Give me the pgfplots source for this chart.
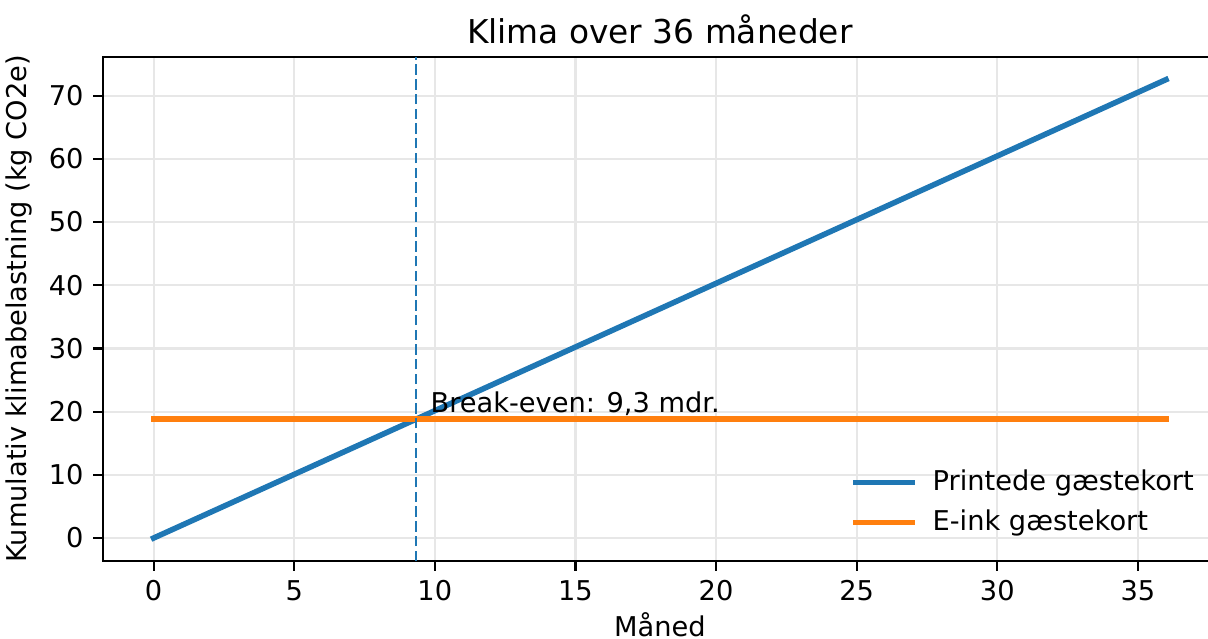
\documentclass[border=0pt]{standalone}
\usepackage{fontspec}
\setmainfont{DejaVu Sans}
\usepackage{pgfplots}
\pgfplotsset{compat=1.18}
\usepackage{pgfplotstable}

\definecolor{mplblue}{HTML}{1F77B4}
\definecolor{mplorange}{HTML}{FF7F0E}
\definecolor{gridgray}{RGB}{231,231,231}

% month, printed cards (cumulative), e-ink cards
\pgfplotstableread{
m  printed  eink
0  0.000    18.8
1  2.015    18.8
2  4.030    18.8
3  6.045    18.8
4  8.060    18.8
5  10.075   18.8
6  12.090   18.8
7  14.105   18.8
8  16.120   18.8
9  18.135   18.8
10 20.150   18.8
11 22.165   18.8
12 24.180   18.8
13 26.195   18.8
14 28.210   18.8
15 30.225   18.8
16 32.240   18.8
17 34.255   18.8
18 36.270   18.8
19 38.285   18.8
20 40.300   18.8
21 42.315   18.8
22 44.330   18.8
23 46.345   18.8
24 48.360   18.8
25 50.375   18.8
26 52.390   18.8
27 54.405   18.8
28 56.420   18.8
29 58.435   18.8
30 60.450   18.8
31 62.465   18.8
32 64.480   18.8
33 66.495   18.8
34 68.510   18.8
35 70.525   18.8
36 72.540   18.8
}\klima

\begin{document}
\begin{tikzpicture}
\begin{axis}[
  scale only axis,
  width=400.6pt, height=181.4pt,
  xmin=-1.8, xmax=37.8,
  ymin=-3.63, ymax=76.17,
  xtick={0,5,...,35},
  ytick={0,10,...,70},
  tick align=outside,
  tick pos=left,
  major tick length=3.5pt,
  every tick/.style={black, line width=0.8pt},
  axis line style={line width=0.8pt},
  grid=major,
  grid style={gridgray, line width=0.8pt},
  /pgf/number format/assume math mode=true,
  tick label style={font=\fontsize{9.8}{12}\selectfont},
  every axis title shift=0pt,
  title={Klima over 36 måneder},
  title style={font=\fontsize{11.8}{14}\selectfont, at={(axis description cs:0.5,1.0254)}, anchor=base},
  xlabel={Måned},
  xlabel style={font=\fontsize{9.8}{12}\selectfont, at={(axis description cs:0.5,-0.1488)}, anchor=base},
  ylabel={Kumulativ klimabelastning (kg CO2e)},
  ylabel style={font=\fontsize{9.8}{12}\selectfont, at={(axis description cs:-0.0684,0.5)}, anchor=base},
  legend style={draw=none, fill=none, font=\fontsize{9.8}{12}\selectfont,
    at={(axis description cs:0.6734,0.192)}, anchor=north west,
    row sep=1.4pt, column sep=4.5pt, inner sep=0pt},
  legend cell align=left,
  legend image code/.code={\draw[#1] (0pt,0pt) -- (20pt,0pt);},
]
\addplot[mplblue, line width=2pt, line cap=rect] table[x=m, y=printed] {\klima};
\addlegendentry{Printede gæstekort}
\addplot[mplorange, line width=2pt, line cap=rect] table[x=m, y=eink] {\klima};
\addlegendentry{E-ink gæstekort}
\addplot[mplblue, line width=1pt, dash pattern=on 3.7pt off 1.6pt, forget plot]
  coordinates {(9.33,-3.63) (9.33,76.17)};
\node[anchor=base west, inner sep=0pt, font=\fontsize{9.8}{12}\selectfont]
  at (axis cs:9.83,19.8) {Break-even: 9,3 mdr.};
\end{axis}
\pgfresetboundingbox
\path[use as bounding box] ([xshift=-37.05pt, yshift=-28.06pt]current axis.south west)
  rectangle ([xshift=397.5pt, yshift=201.8pt]current axis.south west);
\end{tikzpicture}
\end{document}
